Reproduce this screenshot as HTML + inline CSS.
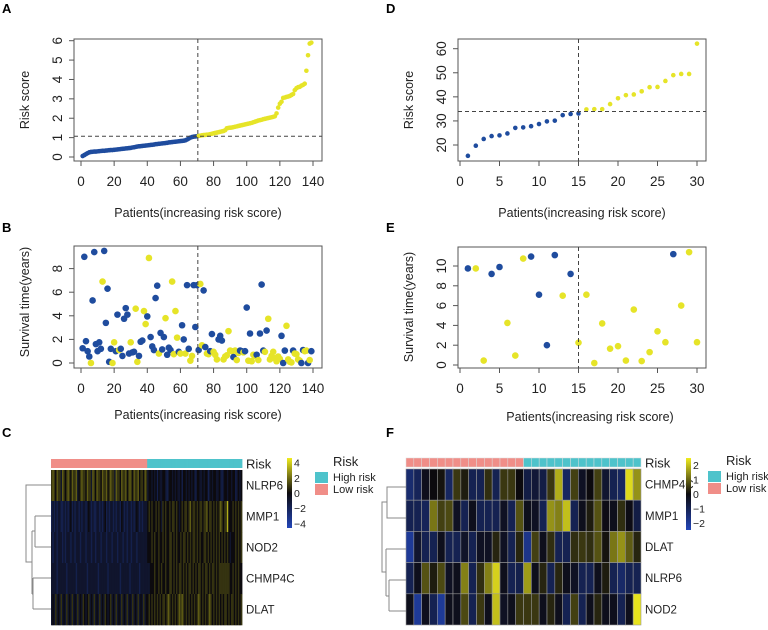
<!DOCTYPE html>
<html><head><meta charset="utf-8"><style>
html,body{margin:0;padding:0;background:#fff;}
svg{display:block;font-family:"Liberation Sans",Arial,sans-serif;}
</style></head><body>
<svg id="fig" width="768" height="630" viewBox="0 0 768 630" xmlns="http://www.w3.org/2000/svg">
<g font-weight="bold" font-size="13">
<text x="2" y="13">A</text>
<text x="386" y="13">D</text>
<text x="2" y="232">B</text>
<text x="386" y="232">E</text>
<text x="2" y="437">C</text>
<text x="386" y="437">F</text>
</g>
</svg>
<script>
// ---- Panel A data ----
const riskA = [0.05,0.10,0.15,0.20,0.24,0.26,0.27,0.28,0.28,0.29,
0.30,0.31,0.32,0.32,0.33,0.34,0.35,0.36,0.36,0.37,
0.38,0.39,0.40,0.41,0.42,0.43,0.44,0.45,0.46,0.47,
0.49,0.50,0.52,0.54,0.55,0.56,0.57,0.58,0.59,0.60,
0.61,0.62,0.63,0.64,0.66,0.67,0.68,0.69,0.70,0.71,
0.72,0.73,0.75,0.76,0.77,0.78,0.79,0.80,0.81,0.82,
0.83,0.84,0.86,0.90,0.95,1.00,1.03,1.05,1.06,1.07,
1.09,1.10,1.12,1.13,1.14,1.15,1.16,1.18,1.20,1.22,
1.24,1.26,1.28,1.30,1.32,1.34,1.38,1.48,1.50,1.51,
1.52,1.54,1.56,1.58,1.60,1.62,1.64,1.66,1.68,1.70,
1.72,1.74,1.76,1.79,1.82,1.85,1.88,1.90,1.92,1.95,
1.97,1.99,2.01,2.03,2.05,2.07,2.10,2.25,2.55,2.75,
2.85,3.05,3.07,3.10,3.12,3.15,3.20,3.25,3.45,3.55,
3.60,3.62,3.68,3.72,3.78,4.45,5.25,5.85,5.90];
const cutA = 1.07;
const xTicksA = [0,20,40,60,80,100,120,140];
const yTicksA = [0,1,2,3,4,5,6];
// ---- Panel B data ----
const timeB = [1.25,9.0,1.85,1.0,0.55,0.0,5.3,9.4,1.6,1.0,
1.75,1.2,6.9,9.5,3.4,6.3,0.1,1.2,0.0,1.75,
1.0,4.1,1.1,1.2,0.6,3.75,4.65,4.1,0.8,1.75,
0.9,0.95,4.6,0.1,0.6,1.8,1.9,4.4,3.3,3.95,
8.9,2.2,1.4,1.1,5.5,6.55,0.8,2.55,1.15,2.2,
3.8,0.7,1.3,1.1,6.9,0.75,4.4,2.15,0.95,0.8,
3.2,2.0,0.8,6.6,1.2,0.2,0.6,6.6,3.05,6.6,
1.1,6.7,1.5,6.15,1.35,0.8,0.75,1.0,2.45,0.95,
0.7,0.3,2.0,2.3,1.9,0.3,0.55,0.65,2.7,1.05,
1.0,0.5,1.05,0.25,0.85,1.05,1.0,0.9,1.0,4.7,
0.2,2.5,0.15,0.7,0.6,0.7,0.25,2.5,6.65,1.05,
0.95,2.75,3.75,0.3,0.6,0.95,0.4,0.15,0.55,0.35,
2.3,0.0,1.05,3.15,0.3,0.1,0.05,1.05,0.8,0.75,
0.3,0.2,0.0,1.1,1.0,1.05,0.0,0.25,1.0];
const deadB = [1,1,1,1,1,0,1,1,1,1,
1,1,0,1,1,1,1,1,0,0,
1,1,0,1,1,1,1,1,1,0,
1,1,0,0,1,1,1,0,0,1,
0,1,1,1,1,1,0,1,1,1,
0,1,1,1,0,0,0,0,1,0,
1,1,0,1,1,0,0,1,1,1,
1,0,0,1,1,0,0,1,1,0,
0,0,1,1,1,0,0,0,0,0,
0,1,0,0,0,1,1,0,1,1,
0,1,0,0,0,1,0,1,1,1,
0,1,0,0,0,0,0,0,0,0,
1,1,1,0,0,0,0,1,0,0,
0,0,1,1,0,0,1,0,1];
const yTicksB = [0,2,4,6,8];
// ---- Panel D data ----
const riskD = [15.5,19.7,22.5,23.7,24.0,24.8,27.1,27.3,27.8,28.7,29.8,30.1,32.4,32.9,33.1,
34.8,34.9,34.9,37.0,39.4,40.7,41.0,42.3,44.0,44.1,46.6,49.0,49.5,49.5,62.1];
const cutD = 33.9;
const xTicksD = [0,5,10,15,20,25,30];
const yTicksD = [20,30,40,50,60];
// ---- Panel E data ----
const timeE = [9.75,9.75,0.45,9.2,9.9,4.25,0.95,10.75,10.95,7.1,2.0,11.1,7.0,9.2,2.25,
7.1,0.2,4.2,1.65,1.9,0.45,5.6,0.4,1.3,3.4,2.3,11.2,6.0,11.4,2.3];
const deadE = [1,0,0,1,1,0,0,0,1,1,1,1,0,1,0,0,0,0,0,0,0,0,0,0,0,0,1,0,0,0];
const yTicksE = [0,2,4,6,8,10];
// ---- Panel C heatmap data (digit d => value d-4) ----
const genesC = ["NLRP6","MMP1","NOD2","CHMP4C","DLAT"];
const heatC_NLRP6 = "5654655365"+"4565465563"+"4565546553"+"6546554655"+"6456553655"+"4655645654"+"6556455465"+
  "3443434243"+"3443234434"+"3433424434"+"3434324433"+"4344234344"+"3343234434"+"434423434";
const heatC_MMP1 = "2323233223"+"2323423233"+"2323323432"+"3223323234"+"2323323233"+"2432323323"+"2343232333"+
  "4545445454"+"3545445455"+"4543454554"+"5645545455"+"4556455454"+"5456545584"+"445454545";
const heatC_NOD2 = "3233233323"+"2333233233"+"3233323332"+"3323332333"+"2333233323"+"3323323323"+"3323333333"+
  "4445454454"+"4545445545"+"4544545545"+"4545545454"+"4554545454"+"5454545454"+"344454545";
const heatC_CHMP4C = "3333233333"+"3233333323"+"3333332333"+"3333233333"+"3233333333"+"2333333233"+"3333233333"+
  "3344454454"+"5445445545"+"4545545454"+"5545454554"+"5455454554"+"5455555555"+"445454544";
const heatC_DLAT = "3435343534"+"3534353435"+"3435434534"+"3534353435"+"4345343534"+"3534353435"+"3435343534"+
  "4545454545"+"4554565454"+"5456565454"+"5454545654"+"5454565454"+"5454545545"+"455454545";
const lowCountC = 70;
const cbTicksC = [4,2,0,-2,-4];
// ---- Panel F heatmap data ----
const genesF = ["CHMP4C","MMP1","DLAT","NLRP6","NOD2"];
const heatF_CHMP4C = [-1.4,-1.1,-0.2,0,0.1,-1.2,0.5,0.2,-1,-1,0.4,-1,0.5,0.5,0,-0.8,-0.6,-0.8,0.5,1.8,-1.2,0.6,-0.3,0,0.6,-0.5,-1,-1.2,2.3,1.5];
const heatF_MMP1 = [-1,-1,-1.1,1.2,0.6,0.7,-0.3,-1,-0.2,-1,-1,-1,-0.3,-1,0.8,-0.2,-0.3,-1,1.5,1.3,2.0,-1,-0.2,0.2,0.8,-0.1,-0.2,0.4,-0.1,-0.8];
const heatF_DLAT = [-2,-0.5,-1,-1,-0.2,-1,-1,-0.4,-1,-0.3,-0.3,0.3,-0.3,-1,0.3,-1.8,0.6,-0.2,0.4,-1,-1,0.4,0.5,0.4,0.8,0.1,1.2,1.5,0.9,0.3];
const heatF_NLRP6 = [-1,-0.2,0.8,0.2,0.7,-0.3,-0.2,1.3,-1,0.4,1.3,2.2,-0.2,-1,-0.9,1.6,-0.2,0.3,-1,0.3,-0.2,-0.3,-1,-1,-0.2,0.2,-1,-1.3,-1,-1];
const heatF_NOD2 = [-0.2,-2,-0.2,-1,-2,-0.2,-0.2,0.7,-1,0.5,-0.2,2.0,-0.3,-0.2,0.5,0.5,0.5,-0.2,0.3,-0.2,-1,0.6,-1,-0.2,0.3,-0.2,-0.2,-1,-0.2,2.4];
const lowCountF = 15;
const cbTicksF = [2,1,0,-1,-2];

const NS="http://www.w3.org/2000/svg";
const svg=document.getElementById('fig');
const BLUE="#1f4c9e", YEL="#e6e428";
function mk(tag,attrs,parent){const e=document.createElementNS(NS,tag);for(const k in attrs)e.setAttribute(k,attrs[k]);(parent||svg).appendChild(e);return e;}
function txt(s,x,y,attrs,parent){const t=mk('text',Object.assign({x:x,y:y},attrs),parent);t.textContent=s;return t;}

function scatter(cfg){
  const g=mk('g',{});
  
  
  const sx=v=>cfg.x0+(v-cfg.xmin)*(cfg.x1-cfg.x0)/(cfg.xmax-cfg.xmin);
  const sy=v=>cfg.y0-(v-cfg.ymin)*(cfg.y0-cfg.y1)/(cfg.ymax-cfg.ymin);
  const box=mk('rect',{x:cfg.bx0,y:cfg.by0,width:cfg.bx1-cfg.bx0,height:cfg.by1-cfg.by0,fill:'none',stroke:'#555','stroke-width':1},g);
  
  
  const xa=mk('g',{},g);
  
  
  mk('line',{x1:sx(cfg.xticks[0]),x2:sx(cfg.xticks[cfg.xticks.length-1]),y1:cfg.by1,y2:cfg.by1,stroke:'#555'},xa);
  cfg.xticks.forEach(t=>{mk('line',{x1:sx(t),x2:sx(t),y1:cfg.by1,y2:cfg.by1+5,stroke:'#555'},xa);
    const l=txt(String(t),sx(t),cfg.by1+25,{'font-size':13.5,'text-anchor':'middle',fill:'#222'},xa);
    
    });
  const ya=mk('g',{},g);
  
  
  mk('line',{x1:cfg.bx0,x2:cfg.bx0,y1:sy(cfg.yticks[0]),y2:sy(cfg.yticks[cfg.yticks.length-1]),stroke:'#555'},ya);
  cfg.yticks.forEach(t=>{mk('line',{x1:cfg.bx0-5,x2:cfg.bx0,y1:sy(t),y2:sy(t),stroke:'#555'},ya);
    const lx=cfg.bx0-12, ly=sy(t);
    const l=txt(String(t),lx,ly,{'font-size':13.5,'text-anchor':'middle',fill:'#222',transform:`rotate(-90 ${lx} ${ly})`},ya);
    
    });
  const xl=txt('Patients(increasing risk score)',cfg.xlx,cfg.xly,{'font-size':12.5,'text-anchor':'middle',fill:'#222'},g);
  
  
  const yl=txt(cfg.ylab,cfg.ylx,cfg.yly,{'font-size':12.5,'text-anchor':'middle',fill:'#222',transform:`rotate(-90 ${cfg.ylx} ${cfg.yly})`},g);
  
  
  cfg.vals.forEach((v,i)=>{
    const blue=cfg.status?cfg.status[i]===1:(i<cfg.lowN);
    const c=mk('circle',{cx:sx(i+1),cy:sy(v),r:cfg.r,fill:blue?BLUE:YEL},g);
    
    
  });
  const vl=mk('line',{x1:sx(cfg.vcut),x2:sx(cfg.vcut),y1:cfg.by0,y2:cfg.by1,stroke:'#444','stroke-dasharray':'4,3'},g);
  
  
  if(cfg.hcut!==undefined){
    const hl=mk('line',{x1:cfg.bx0,x2:cfg.bx1,y1:sy(cfg.hcut),y2:sy(cfg.hcut),stroke:'#444','stroke-dasharray':'4,3'},g);
    
    
  }
}
scatter({name:'panel-a-risk-score',vals:riskA,lowN:70,xmin:0,xmax:140,ymin:0,ymax:6,x0:81,x1:313,y0:157,y1:40.7,
  bx0:74,bx1:322,by0:39,by1:161,xticks:xTicksA,yticks:yTicksA,r:2.3,vcut:70.5,hcut:cutA,
  ylab:'Risk score',ylx:29,yly:100,xlx:198,xly:217});
scatter({name:'panel-b-survival',vals:timeB,status:deadB,xmin:0,xmax:140,ymin:0,ymax:8,x0:81,x1:313,y0:363,y1:268.6,
  bx0:74,bx1:322,by0:246,by1:368,xticks:xTicksA,yticks:yTicksB,r:3.3,vcut:70.5,
  ylab:'Survival time(years)',ylx:29,yly:302,xlx:198,xly:419});
scatter({name:'panel-d-risk-score',vals:riskD,lowN:15,xmin:0,xmax:30,ymin:20,ymax:60,x0:460,x1:697,y0:145,y1:48.7,
  bx0:458,bx1:706,by0:39,by1:161,xticks:xTicksD,yticks:yTicksD,r:2.3,vcut:15,hcut:cutD,
  ylab:'Risk score',ylx:413,yly:100,xlx:582,xly:217});
scatter({name:'panel-e-survival',vals:timeE,status:deadE,xmin:0,xmax:30,ymin:0,ymax:10,x0:460,x1:697,y0:365,y1:266,
  bx0:458,bx1:706,by0:247,by1:368,xticks:xTicksD,yticks:yTicksE,r:3.3,vcut:15,
  ylab:'Survival time(years)',ylx:413,yly:307,xlx:590,xly:421});

function heatColor(v,lim){
  let t=Math.max(-1,Math.min(1,v/lim));
  const blk=[12,10,14];
  const b=[35,70,185], y=[240,236,30];
  const tgt=t<0?b:y; const a=Math.abs(t);
  const c=blk.map((k,i)=>Math.round(k+(tgt[i]-k)*a));
  return `rgb(${c[0]},${c[1]},${c[2]})`;
}
function heatmap(cfg){
  const g=mk('g',{});
  
  
  const n=cfg.rows[0].length;
  const cw=(cfg.x1-cfg.x0)/n, rh=(cfg.y1-cfg.y0)/cfg.rows.length;
  for(let j=0;j<n;j++){
    const a=mk('rect',{x:cfg.x0+j*cw,y:cfg.ay0,width:cw+(cfg.grid?0:0.4),height:cfg.ay1-cfg.ay0,fill:j<cfg.lowN?'#f08e88':'#4ec3cb',stroke:cfg.grid?'#ddd':'none','stroke-width':0.5},g);
    
    
  }
  cfg.rows.forEach((row,i)=>{
    for(let j=0;j<row.length;j++){
      const r=mk('rect',{x:cfg.x0+j*cw,y:cfg.y0+i*rh,width:cw+(cfg.grid?0:0.4),height:rh+(cfg.grid?0:0.3),fill:heatColor(row[j],cfg.lim),stroke:cfg.grid?'#999':'none','stroke-width':0.6},g);
      
      
    }
    const l=txt(cfg.genes[i],cfg.x1+4,cfg.y0+i*rh+rh/2+4,{'font-size':11.5,fill:'#222'},g);
    
    
  });
  const rl=txt('Risk',cfg.x1+4,(cfg.ay0+cfg.ay1)/2+5,{'font-size':13,fill:'#222'},g);
  
  
  const gid=cfg.name+'-grad';
  const defs=mk('defs',{},g);
  const lg=mk('linearGradient',{id:gid,x1:0,y1:0,x2:0,y2:1},defs);
  for(let k=0;k<=10;k++){const v=cfg.cblim-(2*cfg.cblim)*k/10;mk('stop',{offset:k/10,'stop-color':heatColor(v,cfg.cblim)},lg);}
  const cb=mk('rect',{x:cfg.cbx,y:cfg.cby0,width:5,height:cfg.cby1-cfg.cby0,fill:`url(#${gid})`},g);
  
  
  const cs=v=>cfg.cby0+(cfg.cblim-v)/(2*cfg.cblim)*(cfg.cby1-cfg.cby0);
  cfg.cbticks.forEach(t=>{const l=txt(t<0?'\u2212'+(-t):String(t),cfg.cbx+7,cs(t)+4,{'font-size':10.5,fill:'#222'},g);
    
    });
  const lgd=mk('g',{},g);
  
  
  txt('Risk',cfg.lx+2,cfg.ly,{'font-size':13,fill:'#222'},lgd);
  mk('rect',{x:cfg.lx-16,y:cfg.ly+6,width:13,height:11,fill:'#4ec3cb'},lgd);
  mk('rect',{x:cfg.lx-16,y:cfg.ly+18,width:13,height:11,fill:'#f08e88'},lgd);
  txt('High risk',cfg.lx+2,cfg.ly+15,{'font-size':11,fill:'#222'},lgd);
  txt('Low risk',cfg.lx+2,cfg.ly+27,{'font-size':11,fill:'#222'},lgd);
  const d=mk('path',{d:cfg.dendro,fill:'none',stroke:'#888','stroke-width':1},g);
  
  
}
const dig=s=>s.split('').map(c=>Number(c)-4);
heatmap({name:'panel-c-heatmap',rows:[dig(heatC_NLRP6),dig(heatC_MMP1),dig(heatC_NOD2),dig(heatC_CHMP4C),dig(heatC_DLAT)],
  genes:genesC,lowN:lowCountC,lim:5.5,cblim:4.6,x0:51,x1:242,y0:470,y1:625,ay0:459,ay1:468,grid:false,
  cbx:287,cby0:458,cby1:528,cbticks:cbTicksC,lx:331,ly:466,
  dendro:'M51,485H26V562H32 M32,531V594 M32,531H35 M35,516V547 M35,516H51 M35,547H51 M32,594H33 M33,578V609 M33,578H51 M33,609H51'});
heatmap({name:'panel-f-heatmap',rows:[heatF_CHMP4C,heatF_MMP1,heatF_DLAT,heatF_NLRP6,heatF_NOD2],
  genes:genesF,lowN:lowCountF,lim:2.5,cblim:2.5,x0:406,x1:641,y0:469,y1:625,ay0:458,ay1:467,grid:true,
  cbx:686,cby0:458,cby1:530,cbticks:cbTicksF,lx:724,ly:465,
  dendro:'M406,487H387V518H406 M387,502H382V572H386 M386,549V596 M386,549H406 M386,596H389 M389,580V611 M389,580H406 M389,611H406'});
</script>
</body></html>
